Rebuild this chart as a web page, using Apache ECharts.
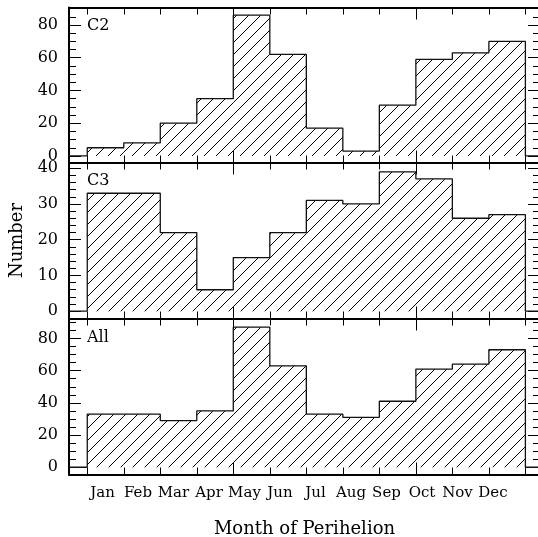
<!DOCTYPE html>
<html><head><meta charset="utf-8">
<script src="https://cdn.jsdelivr.net/npm/echarts@6/dist/echarts.min.js"></script>
<style>html,body{margin:0;padding:0;background:#fff}#c{width:538px;height:537px}</style>
</head><body><div id="c"></div>
<script>
// ---- data ----
const months = ['Jan','Feb','Mar','Apr','May','Jun','Jul','Aug','Sep','Oct','Nov','Dec'];
const c2 = [5, 8, 20, 35, 86, 62, 17, 3, 31, 59, 63, 70];
const c3 = [33, 33, 22, 6, 15, 22, 31, 30, 39, 37, 26, 27];
const allComets = [33, 33, 29, 35, 87, 63, 33, 31, 41, 61, 64, 73];
const panelNames = ['C2', 'C3', 'All'];
const c2Major = [0, 20, 40, 60, 80];
const c2Minor = [0, 5, 10, 15, 20, 25, 30, 35, 40, 45, 50, 55, 60, 65, 70, 75, 80, 85, 90];
const c3Major = [0, 10, 20, 30, 40];
const c3Minor = [0, 2, 4, 6, 8, 10, 12, 14, 16, 18, 20, 22, 24, 26, 28, 30, 32, 34, 36, 38, 40];
const allMajor = [0, 20, 40, 60, 80];
const allMinor = [0, 5, 10, 15, 20, 25, 30, 35, 40, 45, 50, 55, 60, 65, 70, 75, 80, 85, 90];
const xMinor = [1, 2, 3, 4, 5, 6, 7, 8, 9, 10, 11, 12, 13];
const xMajor = [5, 10];

// ---- style / layout ----
const FONT = 'DejaVu Serif';
const X_MIN = 0.5, X_MAX = 13.4;
const panels = [
  { vals: c2, major: c2Major, minor: c2Minor, min: -4, max: 90.7, top: 7.5, height: 155 },
  { vals: c3, major: c3Major, minor: c3Minor, min: -2.05, max: 41.6, top: 162.5, height: 156 },
  { vals: allComets, major: allMajor, minor: allMinor, min: -4.5, max: 92.4, top: 318.5, height: 156 }
];
const labelPos = [[87, 26], [87, 181], [87, 338]];

// hatch pattern
const pc = document.createElement('canvas');
pc.width = 12; pc.height = 12;
const pctx = pc.getContext('2d');
pctx.strokeStyle = '#000';
pctx.lineWidth = 1;
pctx.beginPath();
for (let k = -1; k <= 1; k++) {
  pctx.moveTo(-2, 12 + k * 12 + 2);
  pctx.lineTo(14, 12 + k * 12 - 14);
}
pctx.stroke();
const hatch = { image: pc, repeat: 'repeat' };

const black = '#000';
const grids = [], xAxes = [], yAxes = [], series = [];

panels.forEach((p, g) => {
  grids.push({ left: 69, top: p.top, width: 471, height: p.height, outerBoundsMode: 'none', containLabel: false });
  const xb = { type: 'value', gridIndex: g, min: X_MIN, max: X_MAX, splitLine: { show: false },
    axisLabel: { show: false }, axisLine: { show: false, onZero: false } };
  const lineOn = { show: true, onZero: false, lineStyle: { color: black, width: 2 } };
  const tk = (vals, len) => ({ show: true, inside: true, length: len, customValues: vals, lineStyle: { color: black, width: 1 } });
  const bottomMinor = Object.assign({}, xb, { position: 'bottom', axisLine: lineOn, axisTick: tk(xMinor, 7) });
  if (g === 2) {
    Object.assign(bottomMinor, { name: 'Month of Perihelion', nameLocation: 'middle', nameGap: 46,
      nameTextStyle: { fontFamily: FONT, fontSize: 18, color: black } });
  }
  xAxes.push(
    bottomMinor,
    Object.assign({}, xb, { position: 'bottom', axisTick: tk(xMajor, 12) }),
    Object.assign({}, xb, { position: 'top', axisLine: lineOn, axisTick: tk(xMinor, 7) }),
    Object.assign({}, xb, { position: 'top', axisTick: tk(xMajor, 12) })
  );
  const yb = { type: 'value', gridIndex: g, min: p.min, max: p.max, splitLine: { show: false },
    axisLabel: { show: false }, axisLine: { show: false, onZero: false } };
  const leftMajor = Object.assign({}, yb, { position: 'left', axisLine: lineOn, axisTick: tk(p.major, 12),
    axisLabel: { show: true, customValues: p.major, margin: 11, fontFamily: FONT, fontSize: 16, color: black } });
  if (g === 1) {
    Object.assign(leftMajor, { name: 'Number', nameLocation: 'middle', nameGap: 42,
      nameTextStyle: { fontFamily: FONT, fontSize: 18, color: black } });
  }
  yAxes.push(
    leftMajor,
    Object.assign({}, yb, { position: 'left', axisTick: tk(p.minor, 7) }),
    Object.assign({}, yb, { position: 'right', axisLine: lineOn, axisTick: tk(p.major, 12) }),
    Object.assign({}, yb, { position: 'right', axisTick: tk(p.minor, 7) })
  );
  // hatched bins
  series.push({
    type: 'custom', xAxisIndex: g * 4, yAxisIndex: g * 4, silent: true,
    data: p.vals.map((v, i) => [i + 1, i + 2, v]),
    encode: { x: [0, 1], y: 2 },
    renderItem: function (params, api) {
      const a = api.coord([api.value(0), 0]);
      const b = api.coord([api.value(1), api.value(2)]);
      return { type: 'rect', shape: { x: a[0], y: b[1], width: b[0] - a[0], height: a[1] - b[1] },
        style: { fill: hatch, stroke: null } };
    }
  });
  // step outline
  const pts = [[X_MIN, 0]];
  p.vals.forEach((v, i) => pts.push([i + 1, v]));
  pts.push([13, 0]);
  pts.push([X_MAX, 0]);
  series.push({
    type: 'line', xAxisIndex: g * 4, yAxisIndex: g * 4, step: 'end', data: pts, symbol: 'none',
    silent: true, animation: false, lineStyle: { color: '#111', width: 1.3 }
  });
});

// month label axis
grids.push({ left: 84.75, top: 470, width: 426, height: 4.5, outerBoundsMode: 'none', containLabel: false });
xAxes.push({ type: 'category', gridIndex: 3, data: months, boundaryGap: true, position: 'bottom',
  axisLine: { show: false }, axisTick: { show: false }, splitLine: { show: false },
  axisLabel: { show: true, interval: 0, margin: 11, fontFamily: FONT, fontSize: 15, color: black } });
yAxes.push({ type: 'value', gridIndex: 3, show: false });

const chart = echarts.init(document.getElementById('c'), null, { renderer: 'canvas' });
chart.setOption({
  animation: false,
  backgroundColor: '#fff',
  grid: grids, xAxis: xAxes, yAxis: yAxes, series: series,
  graphic: panelNames.map((t, i) => ({
    type: 'text', silent: true,
    style: { text: t, x: labelPos[i][0], y: labelPos[i][1], fill: black,
      font: '16px "DejaVu Serif"', verticalAlign: 'middle', align: 'left' }
  }))
});
</script></body></html>
